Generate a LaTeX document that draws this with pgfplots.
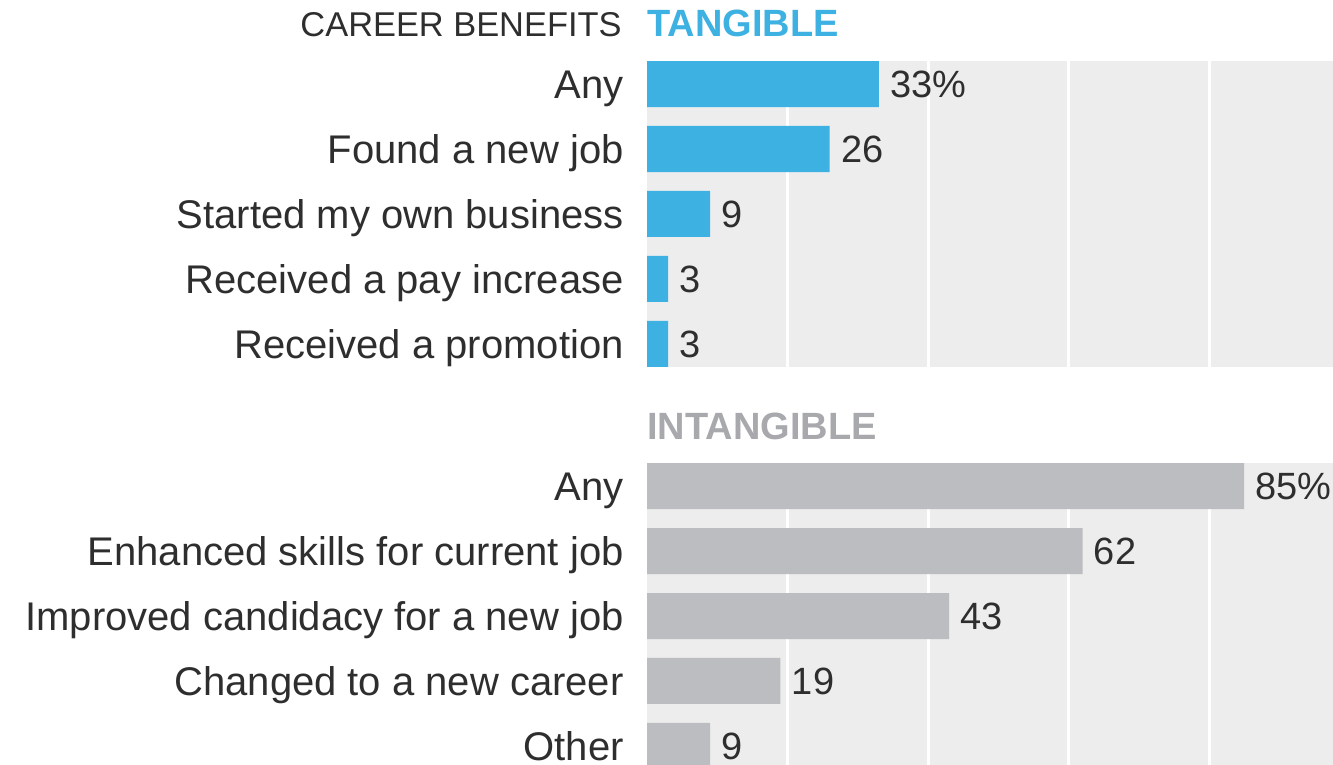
\documentclass[border=0pt]{standalone}
\usepackage{pgfplots}
\pgfplotsset{compat=1.18}
\usepackage{fontspec}
\setmainfont{Liberation Sans}
\definecolor{tblue}{HTML}{3DB1E1}
\definecolor{igray}{HTML}{BCBDC1}
\definecolor{bggray}{HTML}{EDEDED}
\definecolor{ttlgray}{HTML}{A7A9AC}
\definecolor{txt}{HTML}{2E2E2E}
\begin{document}
\begin{tikzpicture}
\useasboundingbox (0pt,0pt) rectangle (666.5pt,382.5pt);
\clip (0pt,0pt) rectangle (666.5pt,382.5pt);
\pgfplotsset{
 hbrbase/.style={
  xbar, scale only axis, width=351.25pt, height=153pt,
  xmin=0, xmax=100, ymin=-0.354, ymax=4.354, y dir=reverse,
  axis background/.style={fill=bggray}, axis line style={draw=none},
  xtick={20,40,60,80}, xticklabels={}, xmajorgrids,
  major grid style={white, line width=1.5pt},
  major tick length=0pt,
  ytick={0,...,4},
  yticklabel style={font=\fontsize{20}{24}\selectfont, text=txt, anchor=east, inner sep=0pt, xshift=-11.5pt, text height=14.3pt, text depth=0pt},
  bar width=23pt, bar shift=0pt,
  nodes near coords, point meta=explicit symbolic,
  nodes near coords style={font=\fontsize{19}{23}\selectfont, text=txt, anchor=west, inner sep=0pt, xshift=5.5pt, text height=13.6pt, text depth=0pt},
  clip=false,
 }
}
\begin{axis}[hbrbase, at={(323.5pt,352pt)}, anchor=north west,
  yticklabels={Any, Found a new job, Started my own business, Received a pay increase, Received a promotion}]
\addplot[fill=tblue, draw=none] coordinates {(33,0) [33\%] (26,1) [26] (9,2) [9] (3,3) [3] (3,4) [3]};
\end{axis}
\begin{axis}[hbrbase, at={(323.5pt,151pt)}, anchor=north west,
  yticklabels={Any, Enhanced skills for current job, Improved candidacy for a new job, Changed to a new career, Other}]
\addplot[fill=igray, draw=none] coordinates {(85,0) [85\%] (62,1) [62] (43,2) [43] (19,3) [19] (9,4) [9]};
\end{axis}
\node[anchor=base east, inner sep=0pt, text=txt, font=\fontsize{17.2}{20}\selectfont] at (311pt,364pt) {CAREER BENEFITS};
\node[anchor=base west, inner sep=0pt, text=tblue, font=\fontsize{19}{21}\selectfont\bfseries] at (323.5pt,364pt) {TANGIBLE};
\node[anchor=base west, inner sep=0pt, text=ttlgray, font=\fontsize{19}{21}\selectfont\bfseries] at (323.5pt,162.5pt) {INTANGIBLE};
\end{tikzpicture}
\end{document}
